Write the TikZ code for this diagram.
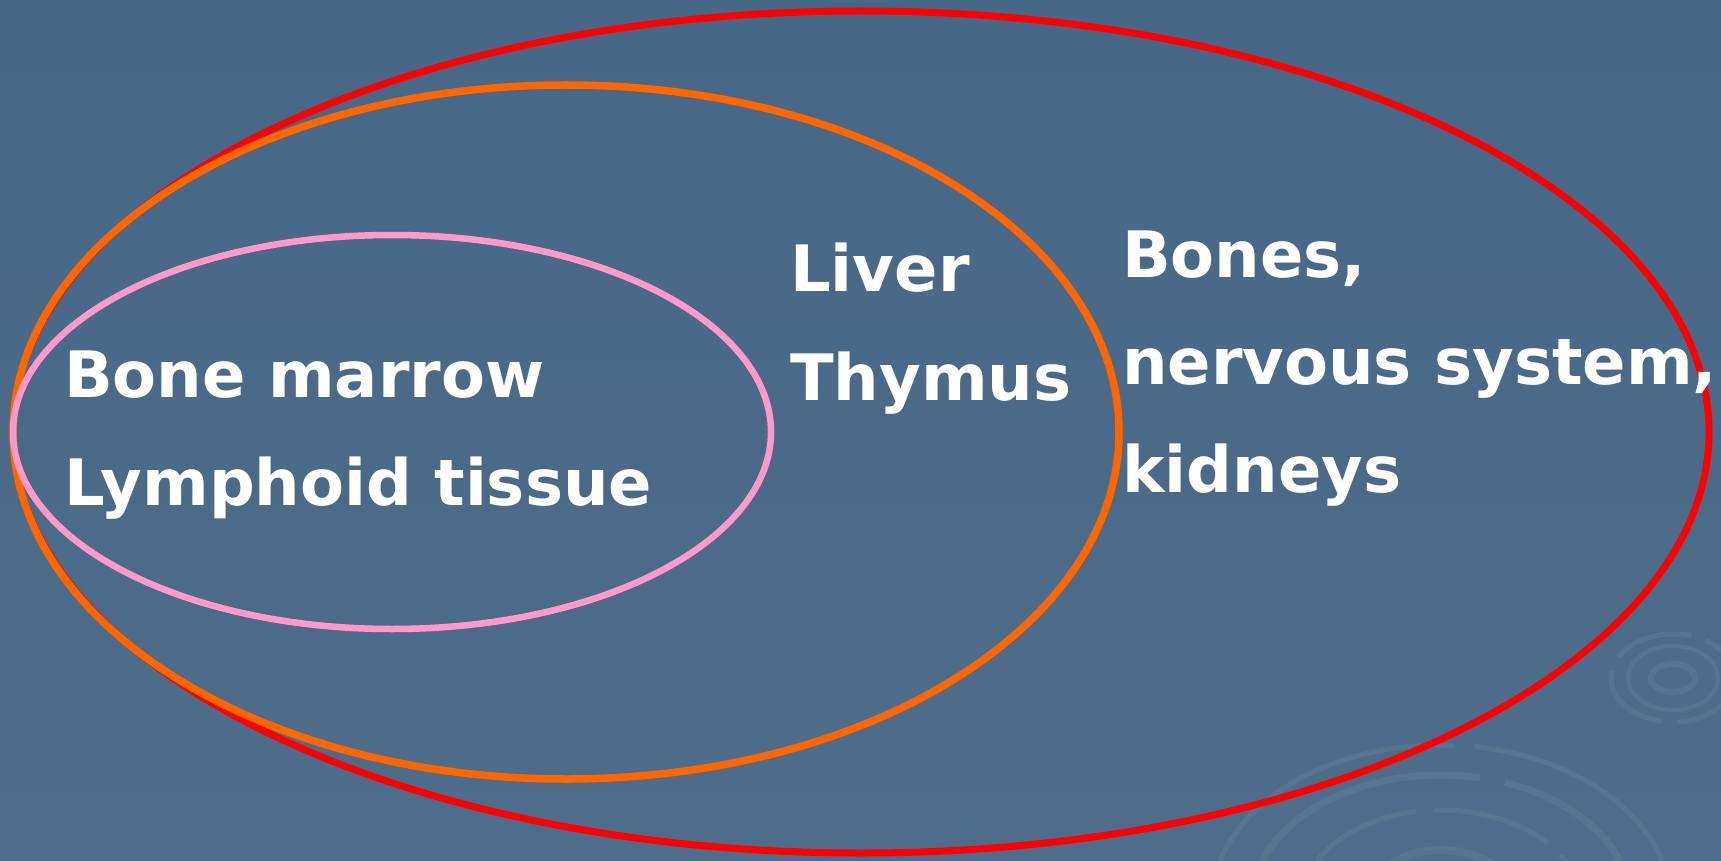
\documentclass[tikz,border=0pt]{standalone}
\usepackage{fontspec}
\setmainfont{DejaVu Sans}
\begin{document}
\begin{tikzpicture}[x=1pt,y=-1pt,
  lbl/.style={anchor=base west,text=white,inner sep=0pt,font=\bfseries\fontsize{64}{64}\selectfont},
  ripple/.style={draw=white,draw opacity=0.06,line width=5pt}]
\definecolor{bgtop}{HTML}{466786}
\definecolor{bgbot}{HTML}{4E6D8A}
\definecolor{ringred}{HTML}{FF0000}
\definecolor{ringorange}{HTML}{FF6600}
\definecolor{ringpink}{HTML}{FF99CC}
\useasboundingbox (0,0) rectangle (1721,861);
\shade[top color=bgtop,bottom color=bgbot] (0,0) rectangle (1721,861);
% faint ripples
\draw[ripple,dash pattern=on 300pt off 20pt] (1441,905) ellipse (230 and 160);
\draw[ripple,line width=7pt,dash pattern=on 250pt off 25pt] (1441,905) ellipse (190 and 130);
\draw[ripple,dash pattern=on 120pt off 18pt] (1441,905) ellipse (140 and 95);
\draw[ripple,line width=8pt] (1441,905) ellipse (75 and 55);
\draw[ripple,dash pattern=on 80pt off 15pt] (1673,678) ellipse (62 and 44);
\draw[ripple,line width=4pt] (1673,678) ellipse (45 and 32);
\draw[ripple,line width=6pt] (1673,678) ellipse (22 and 14);
% rings
\draw[ringred,line width=7pt] (861,432) ellipse (848 and 421);
\draw[ringorange,line width=7.5pt] (566,432) ellipse (553 and 347);
\draw[ringpink,line width=6.5pt] (392,432) ellipse (379 and 197);
% labels
\node[lbl] (bm) at (64,397) {Bone marrow};
\node[lbl] (lt) at (64,505) {Lymphoid tissue};
\node[lbl] (lv) at (790,291) {Liver};
\node[lbl] (th) at (790,400) {Thymus};
\node[lbl] (bo) at (1122,277) {Bones,};
\node[lbl] (ns) at (1122,384) {nervous system,};
\node[lbl] (kd) at (1122,492) {kidneys};
\end{tikzpicture}
\end{document}
